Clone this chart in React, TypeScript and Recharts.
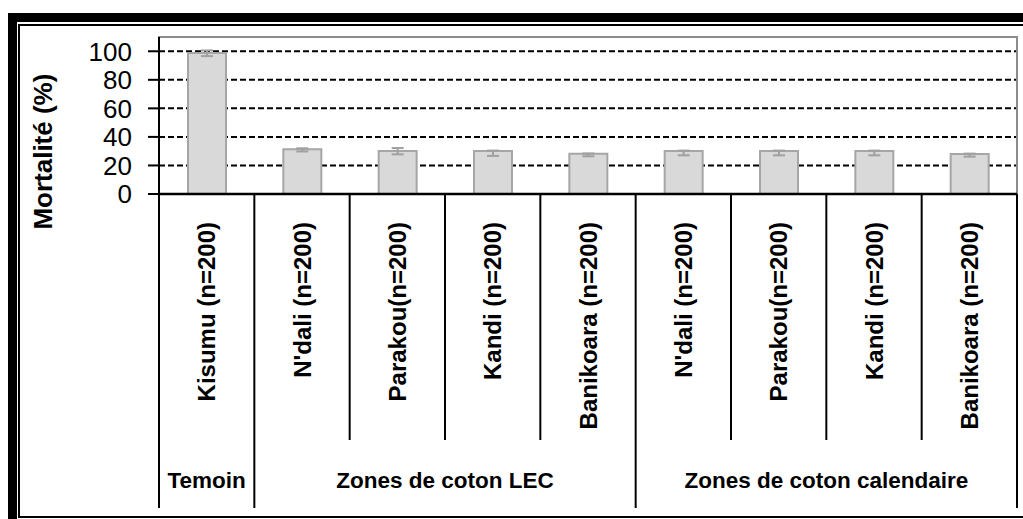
import { BarChart, Bar, XAxis, YAxis, CartesianGrid, ErrorBar, ReferenceArea } from "recharts";

const WIDTH = 1023;
const HEIGHT = 519;
const Y_AXIS_W = 159;
const MARGIN_TOP = 37;
const MARGIN_RIGHT = 6;
const X_AXIS_H = 325;
const FONT = "'Liberation Sans', Arial, sans-serif";

// values
const sites = [
  "Kisumu (n=200)",
  "N'dali (n=200)",
  "Parakou(n=200)",
  "Kandi (n=200)",
  "Banikoara (n=200)",
  "N'dali (n=200)",
  "Parakou(n=200)",
  "Kandi (n=200)",
  "Banikoara (n=200)",
];
const mortality = [98.8, 31.4, 30.2, 30.1, 28.2, 30.1, 30.1, 30.1, 28.1];
const errMinus = [2.2, 1.6, 2.4, 3.4, 1.8, 3.0, 3.0, 3.0, 1.9];
const errPlus = [1.8, 0.6, 2.0, 0.3, 0.2, 0.3, 0.3, 0.3, 0.2];
const groupLabels = ["Temoin", "Zones de coton LEC", "Zones de coton calendaire"];
const groupSizes = [1, 4, 4];
const yTicks = [0, 20, 40, 60, 80, 100];

const data = sites.map((name, i) => ({
  id: i,
  name,
  mortality: mortality[i],
  err: [errMinus[i], errPlus[i]],
}));

const STEP = (WIDTH - Y_AXIS_W - MARGIN_RIGHT) / sites.length;
const groupStarts = groupSizes.map((_, g) => groupSizes.slice(0, g).reduce((a, b) => a + b, 0));

function SiteTick(props: any) {
  const { x, y, payload } = props;
  const i = props.index ?? payload.index;
  const left = x - STEP / 2;
  const g = groupStarts.indexOf(i);
  const isLast = i === sites.length - 1;
  return (
    <g>
      <line x1={left} x2={left} y1={y} y2={y + (g >= 0 ? 314 : 246)} stroke="#000" strokeWidth={2} />
      {isLast && (
        <line x1={x + STEP / 2} x2={x + STEP / 2} y1={y} y2={y + 314} stroke="#000" strokeWidth={2} />
      )}
      <text
        transform={`translate(${x},${y + 28}) rotate(-90)`}
        textAnchor="end"
        dominantBaseline="central"
        fontFamily={FONT}
        fontWeight="bold"
        fontSize={24}
        fill="#000"
      >
        {sites[i]}
      </text>
      {g >= 0 && (
        <text
          x={left + (groupSizes[g] * STEP) / 2}
          y={y + 286}
          textAnchor="middle"
          dominantBaseline="central"
          fontFamily={FONT}
          fontWeight="bold"
          fontSize={22.5}
          fill="#000"
        >
          {groupLabels[g]}
        </text>
      )}
    </g>
  );
}

function YTitle(props: any) {
  const vb = props.viewBox || {};
  const cy = (vb.y ?? MARGIN_TOP) + (vb.height ?? 157) * 0.73;
  return (
    <text
      transform={`translate(43,${cy}) rotate(-90)`}
      textAnchor="middle"
      dominantBaseline="central"
      fontFamily={FONT}
      fontWeight="bold"
      fontSize={26}
      fill="#000"
    >
      Mortalité (%)
    </text>
  );
}

export default function App() {
  return (
    <div style={{ position: "absolute", left: 0, top: 0, width: WIDTH, height: HEIGHT, overflow: "hidden", background: "#fff" }}>
      {/* double frame like the Excel chart border */}
      <div style={{ position: "absolute", left: 8, top: 13, width: 1100, height: 600, borderTop: "9px solid #000", borderLeft: "9px solid #000" }} />
      <div style={{ position: "absolute", left: 18, top: 24, width: 1100, height: 490, borderTop: "2px solid #000", borderLeft: "2px solid #000", borderBottom: "2px solid #000" }} />
      <div style={{ position: "absolute", left: 0, top: 0 }}>
        <BarChart
          width={WIDTH}
          height={HEIGHT}
          data={data}
          margin={{ top: MARGIN_TOP, right: MARGIN_RIGHT, left: 0, bottom: 0 }}
          barSize={38}
        >
          <CartesianGrid vertical={false} stroke="#000" strokeDasharray="6 3" strokeWidth={2} />
          <ReferenceArea y1={0} y2={110} fill="none" stroke="#8c8c8c" strokeWidth={2} ifOverflow="visible" />
          <XAxis
            dataKey="id"
            type="category"
            height={X_AXIS_H}
            interval={0}
            tickLine={false}
            tickSize={0}
            tickMargin={0}
            axisLine={{ stroke: "#000", strokeWidth: 2.5 }}
            tick={<SiteTick />}
          />
          <YAxis
            width={Y_AXIS_W}
            domain={[0, 110]}
            ticks={yTicks}
            interval={0}
            tickSize={11}
            tickMargin={16}
            axisLine={{ stroke: "#000", strokeWidth: 2 }}
            tickLine={{ stroke: "#000", strokeWidth: 2 }}
            tick={{ fill: "#000", fontSize: 26, fontFamily: FONT }}
            label={<YTitle />}
          />
          <Bar dataKey="mortality" fill="#d9d9d9" stroke="#a6a6a6" strokeWidth={2} isAnimationActive={false}>
            <ErrorBar dataKey="err" width={6} stroke="#a0a0a0" strokeWidth={2} isAnimationActive={false} />
          </Bar>
        </BarChart>
      </div>
    </div>
  );
}
